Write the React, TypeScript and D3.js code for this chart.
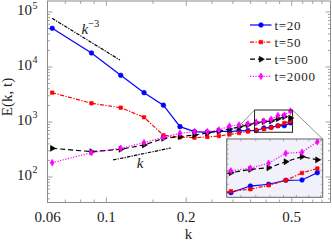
import React from 'react';
import * as d3 from 'd3';

const width = 332, height = 241;
const plot = { left: 47.5, right: 330.5, top: 1, bottom: 202.5 };
const inset = { left: 226.7, right: 322.7, top: 139, bottom: 197.3 };

// wavenumbers shared by all spectra
const kValues = [0.0625, 0.0879, 0.1133, 0.1387, 0.1641, 0.1895, 0.2149, 0.2403, 0.2657,
    0.2911, 0.3165, 0.3419, 0.3673, 0.3927, 0.4181, 0.4435, 0.4689, 0.4943];

// E(k, t)
const e20 = [50600, 18000, 7060, 3410, 2020, 822, 667, 650, 680, 670, 690, 695, 700, 778, 801, 853, 857, 963];
const e50 = [3410, 2190, 1820, 1217, 573, 527, 519, 533, 556, 593, 631, 672, 716, 740, 787, 853, 959, 1030];
const e500 = [332, 289, 319, 382, 504, 541, 580, 631, 686, 746, 811, 882, 963, 1015, 1042, 1148, 1245, 1183];
const e2000 = [182, 277, 332, 421, 527, 623, 667, 667, 716, 845, 882, 920, 991, 1035, 1120, 1313, 1335, 1578];

const seriesNames = ['t=20', 't=50', 't=500', 't=2000'];

// reference slopes
const refSteepK = [0.0625, 0.1125];
const refSteepE = [76700, 13400];
const refLinK = [0.106, 0.175];
const refLinE = [204, 337];

// ticks
const xLabelTicks = [0.06, 0.1, 0.2, 0.5];
const xMinorTicks = [0.07, 0.08, 0.09, 0.15, 0.25, 0.3, 0.35, 0.4, 0.45, 0.55, 0.6, 0.65];
const yLabelExps = [2, 3, 4, 5];
const insetXTicks = [0.38, 0.4, 0.42, 0.44, 0.46, 0.48, 0.5];
const insetYTicks = [700, 800, 900, 1000, 1100, 1200, 1300, 1400, 1500, 1600];

// zoomed window
const zoomK = [0.362, 0.5035];
const zoomE = [650, 1650];

const serif = 'Liberation Serif, DejaVu Serif, serif';
const frameColor = '#8c8c8c';

const styles = [
    { color: '#0000ff', dash: undefined, symbol: d3.symbolCircle, size: 17, rotate: 0 },
    { color: '#ff0000', dash: '4 1.5 1.2 1.5', symbol: d3.symbolSquare, size: 12, rotate: 0 },
    { color: '#000000', dash: '5 3', symbol: d3.symbolTriangle, size: 15, rotate: 90 },
    { color: '#ff00ff', dash: '1.2 1.5', symbol: d3.symbolDiamond, size: 13, rotate: 0 },
];

export default function App() {
    const x = d3.scaleLog().domain([0.06, 0.7]).range([plot.left, plot.right]);
    const y = d3.scaleLog().domain([10 ** 1.536, 10 ** 5.2]).range([plot.bottom, plot.top]);
    const ix = d3.scaleLog().domain(zoomK).range([inset.left, inset.right]);
    const iy = d3.scaleLog().domain(zoomE).range([inset.bottom, inset.top]);

    const allSeries = [e20, e50, e500, e2000];
    // minor ticks: 2..9 x 10^n from d3's log ticks
    const yMinor = y.ticks().filter(v => {
        const m = Math.round(v / 10 ** Math.floor(Math.log10(v) + 1e-9));
        return m !== 1;
    });

    const drawSeries = (sx: any, sy: any, keyPrefix: string) =>
        allSeries.map((vals, i) => {
            const st = styles[i];
            const line = d3.line<number>().x((_, j) => sx(kValues[j])).y(d => sy(d));
            const sym = d3.symbol().type(st.symbol).size(st.size)();
            return (
                <g key={keyPrefix + i}>
                    <path d={line(vals) || ''} fill="none" stroke={st.color} strokeWidth={1.2}
                        strokeDasharray={st.dash} />
                    {vals.map((v, j) => (
                        <path key={j} d={sym || ''} fill={st.color} stroke={st.color} strokeWidth={0.6}
                            transform={`translate(${sx(kValues[j])},${sy(v)}) rotate(${st.rotate})`} />
                    ))}
                </g>
            );
        });

    const refLine = d3.line<number>().x((_, j) => x(refSteepK[j])).y(d => y(d));
    const refLine2 = d3.line<number>().x((_, j) => x(refLinK[j])).y(d => y(d));

    const bx0 = x(zoomK[0]), bx1 = x(zoomK[1]);
    const by0 = y(zoomE[1]), by1 = y(zoomE[0]);

    return (
        <svg width={width} height={height} style={{ position: 'absolute', left: 0, top: 0, fontFamily: serif }}>
            <defs>
                <clipPath id="insetClip">
                    <rect x={inset.left} y={inset.top} width={inset.right - inset.left}
                        height={inset.bottom - inset.top} />
                </clipPath>
            </defs>
            <rect x={0} y={0} width={width} height={height} fill="#fff" />

            {/* frame and ticks */}
            <rect x={plot.left} y={plot.top} width={plot.right - plot.left} height={plot.bottom - plot.top}
                fill="none" stroke={frameColor} strokeWidth={1} />
            {xLabelTicks.concat(xMinorTicks).map((t, i) => {
                const len = i < xLabelTicks.length ? 5 : 3;
                return (
                    <g key={'xt' + i} stroke={frameColor} strokeWidth={0.8}>
                        <line x1={x(t)} x2={x(t)} y1={plot.bottom} y2={plot.bottom - len} />
                        <line x1={x(t)} x2={x(t)} y1={plot.top} y2={plot.top + len} />
                    </g>
                );
            })}
            {yLabelExps.map(e => (
                <g key={'yt' + e} stroke={frameColor} strokeWidth={0.8}>
                    <line x1={plot.left} x2={plot.left + 5} y1={y(10 ** e)} y2={y(10 ** e)} />
                    <line x1={plot.right} x2={plot.right - 5} y1={y(10 ** e)} y2={y(10 ** e)} />
                </g>
            ))}
            {yMinor.map((v, i) => (
                <g key={'ym' + i} stroke={frameColor} strokeWidth={0.8}>
                    <line x1={plot.left} x2={plot.left + 2.5} y1={y(v)} y2={y(v)} />
                    <line x1={plot.right} x2={plot.right - 2.5} y1={y(v)} y2={y(v)} />
                </g>
            ))}

            {/* tick labels */}
            {xLabelTicks.map(t => (
                <text key={'xl' + t} x={x(t)} y={221.5} fontSize={15} textAnchor="middle" fill="#222">{t}</text>
            ))}
            {yLabelExps.map(e => (
                <text key={'yl' + e} x={37.5} y={y(10 ** e) + 3.5} fontSize={15} textAnchor="end" fill="#222">
                    10
                    <tspan fontSize={10} dy={-7} dx={0.5}>{e}</tspan>
                </text>
            ))}
            <text x={x(0.204)} y={238.5} fontSize={15} textAnchor="middle" fill="#222">k</text>
            <text transform="translate(12,97) rotate(-90)" fontSize={15} textAnchor="middle" fill="#222">E(k, t)</text>

            {/* reference slopes */}
            <path d={refLine(refSteepE) || ''} fill="none" stroke="#000" strokeWidth={1.2} strokeDasharray="3.5 1.2 1.2 1.2" />
            <path d={refLine2(refLinE) || ''} fill="none" stroke="#000" strokeWidth={1.2} strokeDasharray="3.5 1.2 1.2 1.2" />
            <text x={81.5} y={33.5} fontSize={15} fontStyle="italic" fill="#222">
                k<tspan fontSize={10.5} dy={-7} fontStyle="normal">−3</tspan>
            </text>
            <text x={140} y={167.5} fontSize={15} fontStyle="italic" textAnchor="middle" fill="#222">k</text>

            {/* spectra */}
            {drawSeries(x, y, 'm')}

            {/* zoom box and connectors */}
            <rect x={bx0} y={by0} width={bx1 - bx0} height={by1 - by0} fill="none" stroke="#222" strokeWidth={1} />
            <line x1={bx0} y1={by0} x2={inset.left} y2={inset.top} stroke="#777" strokeWidth={0.8} />
            <line x1={bx1} y1={by0} x2={inset.right} y2={inset.top} stroke="#777" strokeWidth={0.8} />

            {/* inset */}
            <rect x={inset.left} y={inset.top} width={inset.right - inset.left} height={inset.bottom - inset.top}
                fill="#f1f1fb" />
            {insetXTicks.map(t => (
                <g key={'ix' + t} stroke="#888" strokeWidth={0.6}>
                    <line x1={ix(t)} x2={ix(t)} y1={inset.bottom} y2={inset.bottom - 2.5} />
                    <line x1={ix(t)} x2={ix(t)} y1={inset.top} y2={inset.top + 2.5} />
                </g>
            ))}
            {insetYTicks.map(t => (
                <g key={'iy' + t} stroke="#888" strokeWidth={0.6}>
                    <line x1={inset.left} x2={inset.left + (t === 1000 ? 3.5 : 2)} y1={iy(t)} y2={iy(t)} />
                    <line x1={inset.right} x2={inset.right - (t === 1000 ? 3.5 : 2)} y1={iy(t)} y2={iy(t)} />
                </g>
            ))}
            <g clipPath="url(#insetClip)">
                {drawSeries(ix, iy, 'i')}
            </g>
            <rect x={inset.left} y={inset.top} width={inset.right - inset.left} height={inset.bottom - inset.top}
                fill="none" stroke="#666" strokeWidth={1} />

            {/* legend */}
            {seriesNames.map((name, i) => {
                const st = styles[i];
                const cy = 25 + i * 17.1;
                const sym = d3.symbol().type(st.symbol).size(st.size)();
                return (
                    <g key={'lg' + i}>
                        <line x1={250} x2={271.5} y1={cy} y2={cy} stroke={st.color} strokeWidth={1.2}
                            strokeDasharray={st.dash} />
                        <path d={sym || ''} fill={st.color} stroke={st.color} strokeWidth={0.6}
                            transform={`translate(261,${cy}) rotate(${st.rotate})`} />
                        <text x={274.5} y={cy + 4.5} fontSize={13} letterSpacing={0.7} fill="#222">{name}</text>
                    </g>
                );
            })}
        </svg>
    );
}
